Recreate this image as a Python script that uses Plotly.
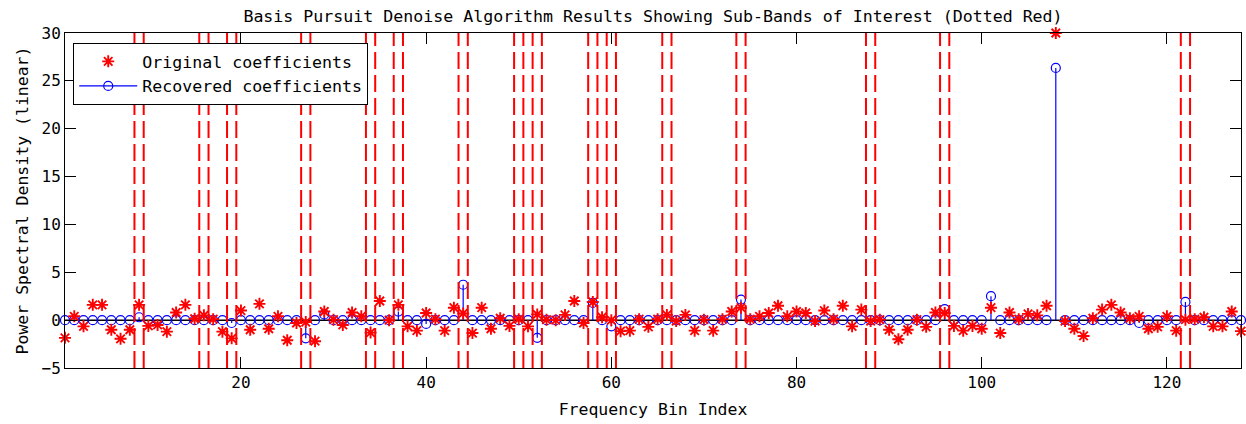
import plotly.graph_objects as go

# Frequency bin indices
bins = list(range(1, 129))

# Original (noisy) spectral coefficients per bin
original = [
    -1.85, 0.4, -0.65, 1.6, 1.6, -1.0, -1.95, -1.0, 1.6, -0.6,
    -0.5, -1.2, 0.8, 1.6, 0.15, 0.5, 0.1, -1.2, -1.9, 1.0,
    -1.0, 1.7, -0.9, 0.4, -2.1, -0.3, -0.2, -2.2, 0.9, 0.05,
    -0.5, 0.8, 0.4, -1.3, 2.0, 0.0, 1.6, -0.65, -1.1, 0.75,
    0.1, -1.1, 1.3, 0.7, -1.35, 1.3, -0.9, 0.2, -0.6, 0.1,
    -0.65, 0.6, 0.05, 0.0, 0.55, 2.0, -0.3, 1.9, 0.3, 0.0,
    -1.15, -1.1, 0.1, -0.7, 0.1, 0.55, -0.1, 0.55, -1.1, 0.05,
    -1.1, 0.1, 0.9, 1.3, 0.1, 0.4, 0.75, 1.5, 0.4, 0.9,
    0.75, -0.1, 1.0, 0.1, 1.5, -0.65, 1.1, -0.1, 0.05, -1.0,
    -2.0, -1.0, 0.05, -0.7, 0.8, 0.75, -0.6, -1.1, -0.6, -0.9,
    1.3, -1.35, 0.8, 0.1, 0.65, 0.5, 1.5, 30.0, -0.1, -0.9,
    -1.65, 0.2, 1.1, 1.6, 0.8, 0.2, 0.4, -0.9, -0.7, 0.4,
    -1.1, 0.05, 0.1, 0.3, -0.65, -0.65, 0.9, -1.15,
]

# Basis pursuit denoise estimate: nonzero bins only
recovered_nonzero = {
    9: 0.3, 19: -0.3, 27: -1.9, 29: 0.6, 37: 0.9, 40: -0.4, 44: 3.7,
    52: -1.85, 58: 1.8, 60: -0.65, 74: 2.15, 96: 1.15, 101: 2.5,
    108: 26.35, 117: -0.3, 122: 1.9,
}
recovered = [recovered_nonzero.get(b, 0.0) for b in bins]

# Centre bins of the sub-bands of interest (each one bin wide)
band_centres = [9, 16, 19, 27, 34, 37, 44, 50, 52, 58, 60, 66, 74, 88, 96, 122]
band_half_width = 0.5

x_range = [1, 128]
y_range = [-5, 30]
x_ticks = [20, 40, 60, 80, 100, 120]
y_ticks = [-5, 0, 5, 10, 15, 20, 25, 30]

FONT = "DejaVu Sans Mono"
RED = "#ff0000"
BLUE = "#0000ff"

fig = go.Figure()

# Stem baseline
fig.add_trace(go.Scatter(
    x=x_range, y=[0, 0], mode="lines",
    line=dict(color="black", width=1.5),
    showlegend=False, hoverinfo="skip",
))

# Stems from zero to each recovered value
stem_x, stem_y = [], []
for b, v in zip(bins, recovered):
    stem_x += [b, b, None]
    stem_y += [0, v, None]
fig.add_trace(go.Scatter(
    x=stem_x, y=stem_y, mode="lines",
    line=dict(color=BLUE, width=1.2),
    showlegend=False, hoverinfo="skip",
))

# Recovered coefficient heads
fig.add_trace(go.Scatter(
    x=bins, y=recovered, mode="markers",
    marker=dict(symbol="circle-open", size=9, color=BLUE,
                line=dict(color=BLUE, width=1.2)),
    showlegend=False, cliponaxis=False,
))

# Original coefficients
fig.add_trace(go.Scatter(
    x=bins, y=original, mode="markers", name="Original coefficients",
    marker=dict(symbol="asterisk-open", size=10, color=RED,
                line=dict(color=RED, width=1.9)),
    cliponaxis=False,
))

# Legend entry for the stem plot
fig.add_trace(go.Scatter(
    x=[None], y=[None], mode="lines+markers", name="Recovered coefficients",
    line=dict(color=BLUE, width=1.2),
    marker=dict(symbol="circle-open", size=9, color=BLUE,
                line=dict(color=BLUE, width=1.2)),
))

# Dashed sub-band edges
edge_x, edge_y = [], []
for c in band_centres:
    for e in (c - band_half_width, c + band_half_width):
        edge_x += [e, e, None]
        edge_y += [y_range[0], y_range[1], None]
fig.add_trace(go.Scatter(
    x=edge_x, y=edge_y, mode="lines",
    line=dict(color=RED, width=2, dash="17px,6px"),
    showlegend=False, hoverinfo="skip",
))

axis_common = dict(
    showgrid=False, zeroline=False,
    showline=True, linecolor="black", linewidth=1, mirror="ticks",
    ticks="inside", ticklen=11, tickwidth=1, tickcolor="black",
    tickfont=dict(family=FONT, size=16, color="black"),
)

fig.update_layout(
    width=1246, height=424,
    margin=dict(l=65, r=5, t=33, b=56),
    paper_bgcolor="white", plot_bgcolor="white",
    font=dict(family=FONT, size=16, color="black"),
    title=dict(
        text="Basis Pursuit Denoise Algorithm Results Showing Sub-Bands of Interest (Dotted Red)",
        font=dict(family=FONT, size=16.6, color="black"),
        x=0.5, xref="paper", xanchor="center",
        y=1 - 16 / 424, yref="container", yanchor="middle",
    ),
    xaxis=dict(
        range=x_range, tickvals=x_ticks,
        title=dict(text="Frequency Bin Index", standoff=12,
                   font=dict(family=FONT, size=16.5)),
        **axis_common,
    ),
    yaxis=dict(
        range=y_range, tickvals=y_ticks,
        title=dict(text="Power Spectral Density (linear)", standoff=8,
                   font=dict(family=FONT, size=16.5)),
        **axis_common,
    ),
    legend=dict(
        x=0.007, y=0.97, xanchor="left", yanchor="top",
        bgcolor="white", bordercolor="black", borderwidth=1,
        font=dict(family=FONT, size=16.6, color="black"),
        tracegroupgap=0, itemwidth=58,
    ),
    showlegend=True,
)

fig.write_html("out.html")
